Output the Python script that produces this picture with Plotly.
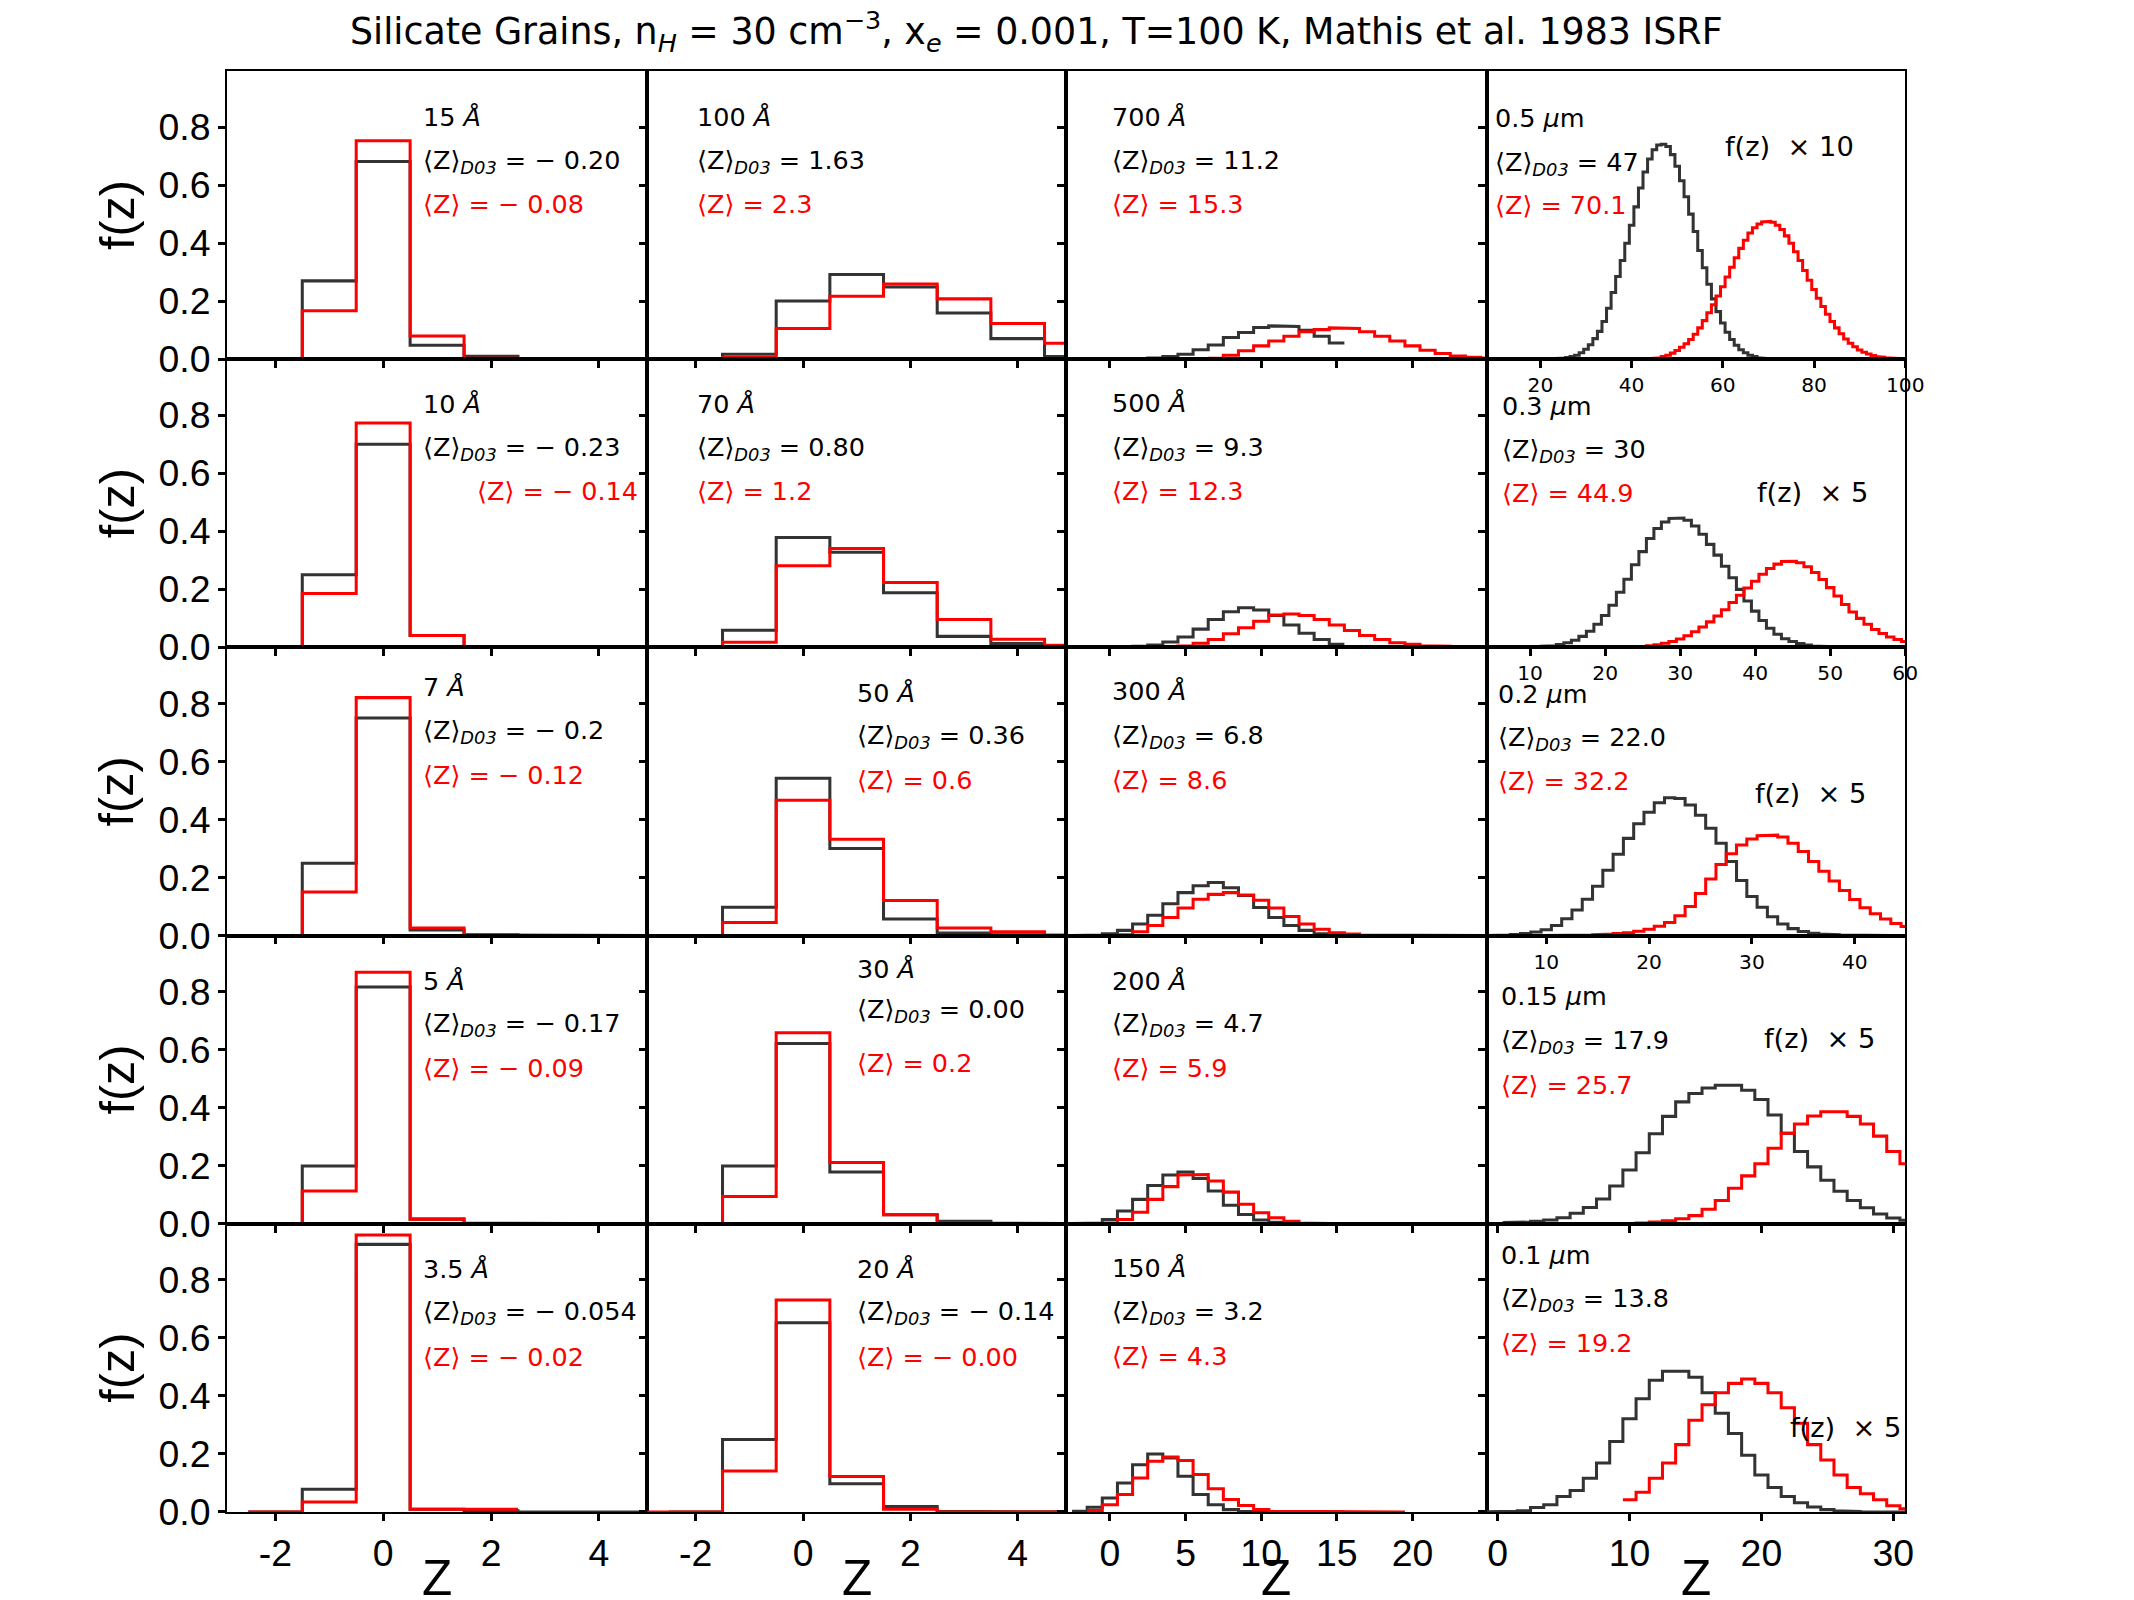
import plotly.graph_objects as go

# Target picture geometry (design coordinates, in output pixels)
DW, DH = 2134, 1600
# The photographed page is resampled slightly; size the figure to fill it.
SX, SY = 0.992, 0.9866
W, H = round(DW / SX), round(DH / SY)
FS = 1 / ((SX * SY) ** 0.5)   # font compensation

# ------------------------------------------------------------------
# DATA  (f(z) per integer charge bin; "d03" = black, "new" = red)
# ------------------------------------------------------------------
c1_start_d03 = -2
c1_start_new = -2
a15_d03 = [0.0, 0.270, 0.681, 0.048, 0.010, 0.001, 0.0, 0.0]
a15_new = [0.0, 0.167, 0.753, 0.080, 0.003, 0.0, 0.0, 0.0]
a10_d03 = [0.0, 0.250, 0.700, 0.041, 0.003, 0.0, 0.0, 0.0]
a10_new = [0.0, 0.186, 0.773, 0.041, 0.001, 0.0, 0.0, 0.0]
a7_d03 = [0.0, 0.249, 0.750, 0.019, 0.003, 0.0, 0.0, 0.0]
a7_new = [0.0, 0.150, 0.820, 0.026, 0.002, 0.0, 0.0, 0.0]
a5_d03 = [0.0, 0.199, 0.816, 0.016, 0.002, 0.0, 0.0, 0.0]
a5_new = [0.0, 0.113, 0.867, 0.016, 0.001, 0.0, 0.0, 0.0]
a3p5_d03 = [0.0, 0.078, 0.922, 0.009, 0.004, 0.0, 0.0, 0.0]
a3p5_new = [0.0, 0.034, 0.954, 0.009, 0.009]

c2_start_d03 = -2
c2_start_new = -3
a100_d03 = [0.0, 0.017, 0.201, 0.292, 0.249, 0.159, 0.071, 0.009, 0.002]
a100_new = [0.0, 0.002, 0.006, 0.106, 0.217, 0.259, 0.208, 0.123, 0.055, 0.020, 0.006]
a70_d03 = [0.0, 0.059, 0.379, 0.328, 0.188, 0.038, 0.013, 0.003]
a70_new = [0.0, 0.0, 0.018, 0.281, 0.341, 0.224, 0.096, 0.028, 0.007, 0.002]
a50_d03 = [0.0, 0.098, 0.542, 0.300, 0.057, 0.009, 0.003, 0.0]
a50_new = [0.0, 0.0, 0.045, 0.466, 0.332, 0.121, 0.026, 0.013, 0.002]
a30_d03 = [0.0, 0.199, 0.621, 0.178, 0.031, 0.009, 0.002, 0.0]
a30_new = [0.0, 0.0, 0.094, 0.658, 0.211, 0.031, 0.003, 0.0, 0.0]
a20_d03 = [0.0, 0.250, 0.652, 0.097, 0.019, 0.002, 0.0, 0.0]
a20_new = [0.0, 0.0, 0.141, 0.730, 0.122, 0.009, 0.0, 0.0, 0.0]

a700_d03_start, a700_new_start = -2, 7
a700_d03 = [0, 0, 0, 0, 0.002, 0.004, 0.009, 0.017, 0.033, 0.049, 0.075, 0.092,
            0.109, 0.115, 0.113, 0.100, 0.079, 0.056]
a700_new = [0.003, 0.014, 0.029, 0.046, 0.063, 0.079, 0.095, 0.102, 0.108, 0.106,
            0.095, 0.079, 0.063, 0.046, 0.031, 0.020, 0.011, 0.007, 0.004]
a500_d03_start, a500_new_start = -2, 3
a500_d03 = [0, 0, 0.001, 0.002, 0.004, 0.008, 0.019, 0.036, 0.063, 0.096, 0.123,
            0.137, 0.129, 0.110, 0.077, 0.049, 0.027, 0.011]
a500_new = [0.001, 0.003, 0.005, 0.014, 0.027, 0.047, 0.068, 0.090, 0.112, 0.115,
            0.110, 0.096, 0.077, 0.058, 0.041, 0.027, 0.016, 0.011, 0.006, 0.004,
            0.002, 0.001, 0.001]
a300_d03_start, a300_new_start = -2, 0
a300_d03 = [0, 0.002, 0.006, 0.018, 0.040, 0.070, 0.110, 0.148, 0.172, 0.183, 0.165,
            0.138, 0.097, 0.062, 0.035, 0.018, 0.006, 0.002]
a300_new = [0, 0.003, 0.013, 0.035, 0.062, 0.095, 0.125, 0.142, 0.148, 0.140, 0.122,
            0.095, 0.066, 0.040, 0.022, 0.010, 0.005, 0.002, 0.001, 0, 0, 0, 0, 0, 0, 0]
a200_d03_start, a200_new_start = -2, -1
a200_d03 = [0.001, 0.003, 0.015, 0.044, 0.084, 0.132, 0.168, 0.178, 0.156, 0.113,
            0.064, 0.032, 0.013, 0.005, 0.002, 0.001, 0, 0]
a200_new = [0, 0.003, 0.015, 0.040, 0.084, 0.128, 0.168, 0.170, 0.147, 0.109, 0.067,
            0.038, 0.021, 0.009, 0.003, 0.001, 0, 0, 0, 0, 0, 0, 0, 0, 0, 0, 0]
a150_d03_start, a150_new_start = -2, -1
a150_d03 = [0.002, 0.016, 0.048, 0.100, 0.163, 0.200, 0.186, 0.123, 0.060, 0.025,
            0.008, 0.002, 0.001, 0, 0, 0, 0, 0]
a150_new = [0.005, 0.025, 0.060, 0.117, 0.175, 0.189, 0.177, 0.129, 0.080, 0.043,
            0.022, 0.008, 0.002, 0, 0, 0, 0, 0, 0, 0, 0]

scale_c4 = [10, 5, 5, 5, 5]
b05_d03_start, b05_new_start = 17, 38
b05_d03 = [0.000, 0.000, 0.000, 0.001, 0.001, 0.002, 0.002, 0.003, 0.004, 0.006,
           0.009, 0.014, 0.022, 0.034, 0.050, 0.071, 0.096, 0.130, 0.176, 0.230,
           0.285, 0.340, 0.400, 0.462, 0.525, 0.590, 0.645, 0.690, 0.722, 0.738,
           0.741, 0.733, 0.705, 0.665, 0.615, 0.560, 0.500, 0.440, 0.375, 0.315,
           0.258, 0.208, 0.164, 0.125, 0.093, 0.068, 0.048, 0.033, 0.022, 0.014,
           0.009, 0.005, 0.003, 0.001]
b05_new = [0.000, 0.000, 0.000, 0.001, 0.001, 0.002, 0.002, 0.003, 0.005, 0.009,
           0.014, 0.021, 0.030, 0.041, 0.053, 0.068, 0.086, 0.108, 0.133, 0.160,
           0.188, 0.218, 0.250, 0.283, 0.317, 0.350, 0.382, 0.410, 0.435, 0.453,
           0.466, 0.473, 0.475, 0.472, 0.462, 0.447, 0.425, 0.400, 0.370, 0.340,
           0.306, 0.272, 0.240, 0.210, 0.182, 0.155, 0.130, 0.108, 0.088, 0.070,
           0.055, 0.043, 0.032, 0.024, 0.018, 0.013, 0.009, 0.007, 0.005, 0.004,
           0.003, 0.002, 0.001]
b03_d03_start, b03_new_start = 8, 18
b03_d03 = [0.000, 0.001, 0.001, 0.002, 0.004, 0.006, 0.010, 0.016, 0.025, 0.038,
           0.056, 0.080, 0.110, 0.145, 0.190, 0.235, 0.285, 0.330, 0.375, 0.410,
           0.432, 0.444, 0.446, 0.438, 0.418, 0.390, 0.355, 0.318, 0.280, 0.240,
           0.200, 0.160, 0.125, 0.093, 0.066, 0.045, 0.030, 0.020, 0.013, 0.008,
           0.005, 0.003, 0.002, 0.001, 0.000]
b03_new = [0.000, 0.001, 0.001, 0.001, 0.002, 0.002, 0.003, 0.004, 0.006, 0.009,
           0.014, 0.020, 0.029, 0.040, 0.054, 0.070, 0.088, 0.108, 0.130, 0.155,
           0.180, 0.205, 0.228, 0.252, 0.272, 0.287, 0.296, 0.297, 0.292, 0.278,
           0.258, 0.234, 0.206, 0.177, 0.148, 0.122, 0.100, 0.080, 0.062, 0.048,
           0.036, 0.027, 0.020, 0.015]
b02_d03_start, b02_new_start = 4, 10
b02_d03 = [0.000, 0.001, 0.002, 0.004, 0.007, 0.012, 0.020, 0.035, 0.058, 0.088,
           0.125, 0.170, 0.225, 0.280, 0.335, 0.385, 0.425, 0.458, 0.475, 0.472,
           0.450, 0.415, 0.370, 0.318, 0.255, 0.190, 0.135, 0.098, 0.065, 0.040,
           0.024, 0.014, 0.008, 0.005, 0.003, 0.002, 0.001, 0.001, 0.000, 0.000]
b02_new = [0.000, 0.000, 0.001, 0.001, 0.002, 0.003, 0.005, 0.007, 0.010, 0.015,
           0.022, 0.032, 0.045, 0.068, 0.100, 0.145, 0.195, 0.245, 0.282, 0.312,
           0.333, 0.344, 0.346, 0.340, 0.318, 0.290, 0.255, 0.222, 0.188, 0.155,
           0.124, 0.096, 0.075, 0.057, 0.042, 0.031]
b015_d03_start, b015_new_start = -1, 8
b015_d03 = [0.000, 0.002, 0.004, 0.006, 0.009, 0.013, 0.021, 0.036, 0.056, 0.085,
            0.130, 0.185, 0.245, 0.310, 0.370, 0.420, 0.449, 0.468, 0.477, 0.477,
            0.460, 0.428, 0.375, 0.312, 0.249, 0.196, 0.150, 0.112, 0.080, 0.055,
            0.034, 0.020, 0.012]
b015_new = [0.000, 0.001, 0.002, 0.003, 0.006, 0.010, 0.017, 0.028, 0.050, 0.080,
            0.122, 0.165, 0.207, 0.260, 0.312, 0.344, 0.371, 0.386, 0.386, 0.370,
            0.344, 0.302, 0.249, 0.207]
b01_d03_start, b01_new_start = -1, 10
b01_d03 = [0.000, 0.001, 0.002, 0.004, 0.015, 0.025, 0.053, 0.074, 0.116, 0.169,
           0.243, 0.321, 0.390, 0.454, 0.485, 0.485, 0.464, 0.411, 0.340, 0.270,
           0.195, 0.127, 0.084, 0.053, 0.032, 0.017, 0.008, 0.004, 0.002, 0.001,
           0.001, 0.000, 0.000]
b01_new = [0.042, 0.068, 0.116, 0.169, 0.232, 0.316, 0.369, 0.411, 0.443, 0.458,
           0.443, 0.411, 0.359, 0.306, 0.232, 0.179, 0.127, 0.084, 0.063, 0.042,
           0.021, 0.011]

size_labels = [
    ["15 <i>Å</i>", "100 <i>Å</i>", "700 <i>Å</i>", "0.5 <i>μ</i>m"],
    ["10 <i>Å</i>", "70 <i>Å</i>", "500 <i>Å</i>", "0.3 <i>μ</i>m"],
    ["7 <i>Å</i>", "50 <i>Å</i>", "300 <i>Å</i>", "0.2 <i>μ</i>m"],
    ["5 <i>Å</i>", "30 <i>Å</i>", "200 <i>Å</i>", "0.15 <i>μ</i>m"],
    ["3.5 <i>Å</i>", "20 <i>Å</i>", "150 <i>Å</i>", "0.1 <i>μ</i>m"],
]
mean_d03 = [
    ["− 0.20", "1.63", "11.2", "47"],
    ["− 0.23", "0.80", "9.3", "30"],
    ["− 0.2", "0.36", "6.8", "22.0"],
    ["− 0.17", "0.00", "4.7", "17.9"],
    ["− 0.054", "− 0.14", "3.2", "13.8"],
]
mean_new = [
    ["− 0.08", "2.3", "15.3", "70.1"],
    ["− 0.14", "1.2", "12.3", "44.9"],
    ["− 0.12", "0.6", "8.6", "32.2"],
    ["− 0.09", "0.2", "5.9", "25.7"],
    ["− 0.02", "− 0.00", "4.3", "19.2"],
]

panels = [
    [(c1_start_d03, a15_d03, c1_start_new, a15_new),
     (c2_start_d03, a100_d03, c2_start_new, a100_new),
     (a700_d03_start, a700_d03, a700_new_start, a700_new),
     (b05_d03_start, b05_d03, b05_new_start, b05_new)],
    [(c1_start_d03, a10_d03, c1_start_new, a10_new),
     (c2_start_d03, a70_d03, c2_start_new, a70_new),
     (a500_d03_start, a500_d03, a500_new_start, a500_new),
     (b03_d03_start, b03_d03, b03_new_start, b03_new)],
    [(c1_start_d03, a7_d03, c1_start_new, a7_new),
     (c2_start_d03, a50_d03, c2_start_new, a50_new),
     (a300_d03_start, a300_d03, a300_new_start, a300_new),
     (b02_d03_start, b02_d03, b02_new_start, b02_new)],
    [(c1_start_d03, a5_d03, c1_start_new, a5_new),
     (c2_start_d03, a30_d03, c2_start_new, a30_new),
     (a200_d03_start, a200_d03, a200_new_start, a200_new),
     (b015_d03_start, b015_d03, b015_new_start, b015_new)],
    [(c1_start_d03, a3p5_d03, c1_start_new, a3p5_new),
     (c2_start_d03, a20_d03, c2_start_new, a20_new),
     (a150_d03_start, a150_d03, a150_new_start, a150_new),
     (b01_d03_start, b01_d03, b01_new_start, b01_new)],
]

# ------------------------------------------------------------------
# LAYOUT (design pixels)
# ------------------------------------------------------------------
col_px = [227, 648, 1067, 1488, 1907]
row_px = [71, 359, 647, 935, 1223, 1511]
Y_MAX = 0.993

x_ranges = {0: [-2.9, 4.9], 1: [-2.9, 4.9], 2: [-2.9, 24.9]}
c4_ranges = [[8.2, 100], [4.2, 60], [4.2, 44.9], [-0.83, 30.9], [-0.83, 30.9]]
c4_ticks = [[20, 40, 60, 80, 100], [10, 20, 30, 40, 50, 60], [10, 20, 30, 40],
            [0, 10, 20, 30], [0, 10, 20, 30]]

BIG = "Liberation Sans, Arial, sans-serif"
DJV = "DejaVu Sans, sans-serif"
BLACK_LINE = "#333333"
RED = "#ff0000"


def step_xy(start, vals):
    xs, ys = [], []
    for i, v in enumerate(vals):
        c = start + i
        xs += [c - 0.5, c + 0.5]
        ys += [v, v]
    return xs, ys


def fx(px):
    return px / DW


def fy(py):
    return 1 - py / DH


fig = go.Figure()
layout = dict(width=W, height=H, margin=dict(l=0, r=0, t=0, b=0, pad=0),
              paper_bgcolor="white", plot_bgcolor="rgba(0,0,0,0)",
              showlegend=False)
annotations = []

for r in range(5):
    for c in range(4):
        idx = r * 4 + c + 1
        xn = "x" if idx == 1 else f"x{idx}"
        yn = "y" if idx == 1 else f"y{idx}"
        s0, v0, s1, v1 = panels[r][c]
        for (st, vals, col) in [(s0, v0, BLACK_LINE), (s1, v1, RED)]:
            xs, ys = step_xy(st, vals)
            fig.add_trace(go.Scatter(x=xs, y=ys, mode="lines",
                                     line=dict(color=col, width=3 * FS),
                                     xaxis=xn, yaxis=yn, hoverinfo="skip"))
        common = dict(showline=True, linecolor="black", linewidth=1.5, mirror=True,
                      ticks="outside", ticklen=7, tickwidth=2.5, tickcolor="black",
                      showgrid=False, zeroline=False)
        if c < 3:
            tv = [-2, 0, 2, 4] if c < 2 else [0, 5, 10, 15, 20]
            xa = dict(domain=[fx(col_px[c]), fx(col_px[c + 1])], range=x_ranges[c],
                      tickvals=tv, ticktext=[str(t) for t in tv],
                      showticklabels=(r == 4),
                      tickfont=dict(family=BIG, size=37 * FS, color="black"))
        else:
            tv = c4_ticks[r]
            xa = dict(domain=[fx(col_px[c]), fx(col_px[c + 1])], range=c4_ranges[r],
                      tickvals=tv, ticktext=[str(t) for t in tv],
                      showticklabels=(r != 3))
            if r == 4:
                xa["tickfont"] = dict(family=BIG, size=37 * FS, color="black")
            else:
                xa["tickfont"] = dict(family=DJV, size=20 * FS, color="black")
        xa.update(common)
        xa["anchor"] = yn
        ya = dict(domain=[fy(row_px[r + 1]), fy(row_px[r])], range=[0, Y_MAX],
                  tickvals=[0, 0.2, 0.4, 0.6, 0.8],
                  ticktext=["0.0", "0.2", "0.4", "0.6", "0.8"],
                  showticklabels=(c == 0),
                  tickfont=dict(family=BIG, size=37 * FS, color="black"))
        ya.update(common)
        ya["anchor"] = xn
        layout["xaxis" if idx == 1 else f"xaxis{idx}"] = xa
        layout["yaxis" if idx == 1 else f"yaxis{idx}"] = ya

text_x = [
    [422, 697, 1112, 1495],
    [422, 697, 1112, 1502],
    [422, 857, 1112, 1498],
    [422, 857, 1112, 1501],
    [422, 857, 1112, 1501],
]
red_x_override = {(1, 0): 476}
text_y = [
    [(117, 161, 204), (117, 161, 204), (117, 161, 204), (118, 163, 205)],
    [(404, 448, 491), (404, 448, 491), (403, 448, 491), (406, 450, 493)],
    [(687, 731, 775), (693, 736, 780), (691, 736, 780), (694, 738, 781)],
    [(980, 1024, 1067), (968, 1010, 1062), (980, 1024, 1067), (995, 1041, 1084)],
    [(1268, 1312, 1356), (1268, 1312, 1356), (1267, 1312, 1355), (1254, 1299, 1342)],
]
scale_pos = [(1726, 146), (1758, 492), (1756, 793), (1765, 1038), (1791, 1427)]


def add_text(px, py, text, color="black", size=25.2, family=DJV, xanchor="left",
             angle=0, yanchor="middle"):
    annotations.append(dict(x=fx(px), y=fy(py), xref="paper", yref="paper",
                            text=text, showarrow=False, xanchor=xanchor,
                            yanchor=yanchor, textangle=angle, borderpad=0,
                            font=dict(family=family, size=size * FS, color=color)))


for r in range(5):
    for c in range(4):
        ly, dy, ny = text_y[r][c]
        x0 = text_x[r][c]
        add_text(x0, ly, size_labels[r][c])
        add_text(x0, dy, "⟨Z⟩<sub><i>D03</i></sub> = " + mean_d03[r][c])
        add_text(red_x_override.get((r, c), x0), ny, "⟨Z⟩ = " + mean_new[r][c],
                 color=RED)
    sx, sy = scale_pos[r]
    add_text(sx, sy, f"f(z)  × {scale_c4[r]}", size=27)

for r in range(5):
    add_text(117, (row_px[r] + row_px[r + 1]) / 2, "f(z)", size=48, family=BIG,
             xanchor="center", angle=-90)
for c in range(4):
    add_text((col_px[c] + col_px[c + 1]) / 2, 1577, "Z", size=49, family=BIG,
             xanchor="center")

add_text(1037, 31,
         "Silicate Grains, n<sub><i>H</i></sub> = 30 cm<sup>−3</sup>, "
         "x<sub><i>e</i></sub> = 0.001, T=100 K, Mathis et al. 1983 ISRF",
         size=36, xanchor="center")

layout["annotations"] = annotations
fig.update_layout(**layout)
fig.write_html("out.html")
